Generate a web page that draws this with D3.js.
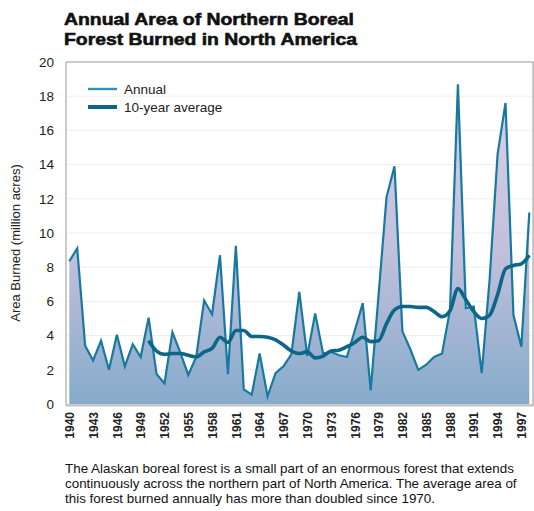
<!DOCTYPE html>
<html><head><meta charset="utf-8">
<script src="https://cdn.jsdelivr.net/npm/d3@7"></script>
<style>
body{margin:0;background:#fff;}
svg{display:block;font-family:"Liberation Sans",Arial,sans-serif;}
</style></head>
<body><svg id="c" width="534" height="511"></svg>
<script>
const years = d3.range(1940, 1999);
const annual = [8.35,9.1,3.4,2.55,3.7,2.0,4.05,2.2,3.5,2.75,
  5.05,1.75,1.2,4.2,3.0,1.7,2.75,6.05,5.25,8.7,
  1.75,9.25,0.85,0.55,2.95,0.45,1.8,2.2,2.9,6.55,
  2.8,5.3,2.95,3.05,2.85,2.75,4.3,5.9,0.8,6.4,
  12.1,13.9,4.25,3.2,2.0,2.3,2.75,2.95,5.5,18.7,
  5.6,5.7,1.8,7.3,14.6,17.6,5.2,3.35,11.2];
const avgYears = d3.range(1950, 1999);
const avg10 = [3.7,3.1,2.9,2.95,2.95,2.85,2.75,3.05,3.25,3.9,
  3.6,4.3,4.3,3.95,3.95,3.9,3.75,3.45,3.1,2.95,
  3.05,2.7,2.8,3.1,3.15,3.35,3.6,3.9,3.65,3.7,
  4.7,5.5,5.7,5.7,5.65,5.65,5.4,5.1,5.45,6.75,
  6.1,5.4,5.0,5.2,6.4,7.9,8.1,8.2,8.7];
const yTicks = [0,2,4,6,8,10,12,14,16,18,20];
const xTicks = d3.range(1940, 1998, 3);
const title = ["Annual Area of Northern Boreal","Forest Burned in North America"];
const caption = ["The Alaskan boreal forest is a small part of an enormous forest that extends",
  "continuously across the northern part of North America.  The average area of",
  "this forest burned annually has more than doubled since 1970."];
const seriesNames = ["Annual","10-year average"];

const svg = d3.select("#c");
const L = 66, R = 533, T = 62, B = 405;
const x = d3.scaleLinear().domain([1940, 1998]).range([69.3, 529.3]);
const y = d3.scaleLinear().domain([0, 20]).range([404, 62]);

const defs = svg.append("defs");
const g = defs.append("linearGradient").attr("id","fillg")
  .attr("gradientUnits","userSpaceOnUse").attr("x1",0).attr("x2",0)
  .attr("y1",y(20)).attr("y2",y(0));
g.append("stop").attr("offset","0%").attr("stop-color","#ddd2e8");
g.append("stop").attr("offset","55%").attr("stop-color","#c2c0dc");
g.append("stop").attr("offset","100%").attr("stop-color","#86abcb");

// frame
svg.append("rect").attr("x",L+1).attr("y",T+1).attr("width",R-L).attr("height",B-T)
  .attr("fill","none").attr("stroke","#e4e4e4").attr("stroke-width",2);
svg.append("rect").attr("x",L).attr("y",T).attr("width",R-L).attr("height",B-T)
  .attr("fill","#fff").attr("stroke","#aaaaaa").attr("stroke-width",1.2);

// grid
svg.append("g").selectAll("line").data(yTicks.filter(d=>d>0&&d<20)).join("line")
  .attr("x1",L+1).attr("x2",R-1).attr("y1",d=>y(d)).attr("y2",d=>y(d))
  .attr("stroke","#eeeeee").attr("stroke-width",1);

// area
const area = d3.area().x((d,i)=>x(years[i])).y0(y(0)).y1(d=>y(d));
svg.append("path").datum(annual).attr("d",area).attr("fill","url(#fillg)");

// lines
const line = d3.line().x((d,i)=>x(years[i])).y(d=>y(d));
svg.append("path").datum(annual).attr("d",line).attr("fill","none")
  .attr("stroke","#17799f").attr("stroke-width",2.2).attr("stroke-linejoin","miter");
const line2 = d3.line().curve(d3.curveMonotoneX).x((d,i)=>x(avgYears[i])).y(d=>y(d));
svg.append("path").datum(avg10).attr("d",line2).attr("fill","none")
  .attr("stroke","#0d6687").attr("stroke-width",3.6).attr("stroke-linejoin","round");

// y axis
const ya = d3.axisLeft(y).tickValues(yTicks).tickSize(0).tickPadding(0);
const yg = svg.append("g").attr("transform",`translate(54,0)`).call(ya);
yg.select(".domain").remove();
yg.selectAll("text").attr("font-size","13.5px").attr("fill","#222")
  .attr("font-family","Liberation Sans, Arial, sans-serif");

// x axis
const xa = d3.axisBottom(x).tickValues(xTicks).tickFormat(d3.format("d")).tickSize(0);
const xg = svg.append("g").attr("transform",`translate(0,${B})`).call(xa);
xg.select(".domain").remove();
xg.selectAll("text").attr("font-size","12px").attr("font-weight","bold").attr("fill","#222")
  .attr("font-family","Liberation Sans, Arial, sans-serif")
  .attr("transform","rotate(-90)").attr("text-anchor","end")
  .attr("x",-7).attr("y",0).attr("dy","0.35em");

// y title
svg.append("text").attr("transform","translate(20,243) rotate(-90)")
  .attr("text-anchor","middle").attr("font-size","13px").attr("fill","#222")
  .text("Area Burned (million acres)");

// title
const titleW = [290, 293];
svg.append("g").selectAll("text").data(title).join("text")
  .attr("x",64).attr("y",(d,i)=>25+i*20).attr("font-size","17px").attr("font-weight","bold")
  .attr("fill","#111").attr("stroke","#111").attr("stroke-width",0.6)
  .attr("textLength",(d,i)=>titleW[i]).attr("lengthAdjust","spacingAndGlyphs")
  .text(d=>d);

// legend
const lg = svg.append("g");
const lcols = ["#2c93bd","#0d6687"], lw = [2.4,4];
seriesNames.forEach((n,i)=>{
  const yy = 89 + i*18;
  lg.append("line").attr("x1",88).attr("x2",117).attr("y1",yy).attr("y2",yy)
    .attr("stroke",lcols[i]).attr("stroke-width",lw[i]);
  lg.append("text").attr("x",124).attr("y",yy).attr("dy","0.35em")
    .attr("font-size","13.5px").attr("fill","#222").text(n);
});

// caption
svg.append("g").selectAll("text").data(caption).join("text")
  .attr("x",65).attr("y",(d,i)=>473+i*15).attr("font-size","13.4px").attr("fill","#111")
  .text(d=>d);
</script></body></html>
